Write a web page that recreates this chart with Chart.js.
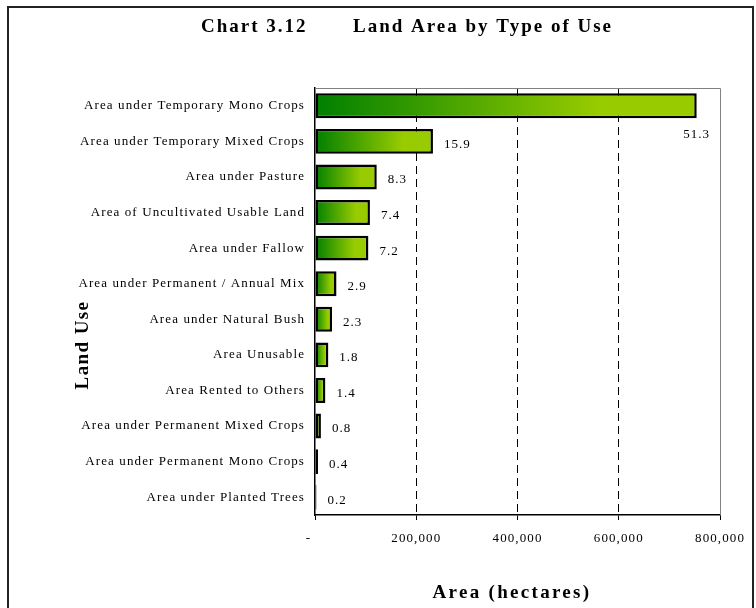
<!DOCTYPE html>
<html>
<head>
<meta charset="utf-8">
<script src="https://cdn.jsdelivr.net/npm/chart.js@4.4.1/dist/chart.umd.min.js"></script>
<style>
    html, body { margin: 0; padding: 0; background: #fff; }
    canvas { display: block; }
</style>
</head>
<body>
<canvas id="landUseChart" width="756" height="608"></canvas>
<script>
const landUses = [
    'Area under Temporary Mono Crops',
    'Area under Temporary Mixed Crops',
    'Area under Pasture',
    'Area of Uncultivated Usable Land',
    'Area under Fallow',
    'Area under Permanent / Annual Mix',
    'Area under Natural Bush',
    'Area Unusable',
    'Area Rented to Others',
    'Area under Permanent Mixed Crops',
    'Area under Permanent Mono Crops',
    'Area under Planted Trees'
];
// hectares
const areaHectares = [754000, 233000, 122000, 108500, 105500, 42500, 33700, 26400, 20500, 11700, 5900, 2900];
// percent shares printed next to the bars
const sharePercent = ['51.3', '15.9', '8.3', '7.4', '7.2', '2.9', '2.3', '1.8', '1.4', '0.8', '0.4', '0.2'];
const xTickValues = [0, 200000, 400000, 600000, 800000];
const xTickLabels = ['-   ', '200,000', '400,000', '600,000', '800,000'];

const serif = "'Liberation Serif', 'Times New Roman', serif";
const darkGreen = '#007f00';
const lightGreen = '#99cc00';

// Excel-ish wide letter spacing on everything the chart draws
const spacingPlugin = {
    id: 'spacing',
    beforeLayout(chart) { chart.ctx.letterSpacing = '1.1px'; },
    beforeDraw(chart) { chart.ctx.letterSpacing = '1.1px'; }
};

const framePlugin = {
    id: 'frame',
    beforeDraw(chart) {
        const ctx = chart.ctx;
        ctx.save();
        ctx.fillStyle = '#fff';
        ctx.fillRect(0, 0, chart.width, chart.height);
        ctx.restore();
    },
    afterDraw(chart) {
        const ctx = chart.ctx;
        const area = chart.chartArea;
        ctx.save();
        // outer page box
        ctx.strokeStyle = '#222';
        ctx.lineWidth = 2;
        ctx.strokeRect(8, 7, 745, 640);
        // plot area top / right edge
        ctx.strokeStyle = '#808080';
        ctx.lineWidth = 1;
        ctx.beginPath();
        ctx.moveTo(area.left, area.top + 0.5);
        ctx.lineTo(area.right + 0.5, area.top + 0.5);
        ctx.lineTo(area.right + 0.5, area.bottom);
        ctx.stroke();

        // titles
        ctx.fillStyle = '#000';
        ctx.font = 'bold 19px ' + serif;
        ctx.letterSpacing = '2px';
        ctx.textAlign = 'left';
        ctx.textBaseline = 'alphabetic';
        ctx.fillText('Chart 3.12', 201, 32);
        ctx.fillText('Land Area by Type of Use', 353, 32);

        ctx.font = 'bold 19px ' + serif;
        ctx.letterSpacing = '2.3px';
        ctx.textAlign = 'center';
        ctx.fillText('Area (hectares)', 512, 598);

        ctx.letterSpacing = '1.4px';
        ctx.translate(83, 345);
        ctx.rotate(-Math.PI / 2);
        ctx.textBaseline = 'middle';
        ctx.fillText('Land Use', 0, 0);
        ctx.restore();
    }
};

const valueLabelPlugin = {
    id: 'valueLabels',
    afterDatasetsDraw(chart) {
        const ctx = chart.ctx;
        const area = chart.chartArea;
        const meta = chart.getDatasetMeta(0);
        ctx.save();
        ctx.font = '13px ' + serif;
        ctx.letterSpacing = '1px';
        ctx.fillStyle = '#000';
        ctx.textBaseline = 'middle';
        meta.data.forEach((bar, i) => {
            const text = sharePercent[i];
            const w = ctx.measureText(text).width;
            if (bar.x + 11 + w > area.right) {
                ctx.textAlign = 'center';
                ctx.fillText(text, bar.x, bar.y + 29);
            } else {
                ctx.textAlign = 'left';
                ctx.fillText(text, bar.x + 11, bar.y + 3);
            }
        });
        ctx.restore();
    }
};

const ctx = document.getElementById('landUseChart').getContext('2d');

new Chart(ctx, {
    type: 'bar',
    data: {
        labels: landUses,
        datasets: [{
            data: areaHectares,
            backgroundColor: function (context) {
                const chart = context.chart;
                if (!chart.chartArea || !chart.scales.x) {
                    return lightGreen;
                }
                const x0 = chart.scales.x.getPixelForValue(0);
                const x1 = chart.scales.x.getPixelForValue(context.raw);
                const g = chart.ctx.createLinearGradient(x0, 0, Math.max(x1, x0 + 1), 0);
                g.addColorStop(0, darkGreen);
                g.addColorStop(0.75, lightGreen);
                g.addColorStop(1, lightGreen);
                return g;
            },
            borderColor: '#000',
            borderWidth: 2.5,
            borderSkipped: false,
            barPercentage: 0.7,
            categoryPercentage: 1
        }]
    },
    options: {
        indexAxis: 'y',
        responsive: false,
        animation: false,
        devicePixelRatio: 1,
        layout: {
            padding: { left: 0, top: 88, right: 32, bottom: 0 }
        },
        plugins: {
            legend: { display: false },
            title: { display: false },
            tooltip: { enabled: false }
        },
        scales: {
            x: {
                min: 0,
                max: 800000,
                afterFit: function (scale) { scale.height = 93; },
                afterBuildTicks: function (scale) {
                    scale.ticks = xTickValues.map(v => ({ value: v }));
                },
                ticks: {
                    color: '#000',
                    font: { family: serif, size: 13 },
                    padding: 11,
                    maxRotation: 0,
                    callback: function (value, index) { return xTickLabels[index]; }
                },
                grid: {
                    color: function (context) {
                        const v = context.tick ? context.tick.value : 0;
                        return (v === 0 || v === 800000) ? 'rgba(0,0,0,0)' : '#000';
                    },
                    lineWidth: 1,
                    drawTicks: true,
                    tickLength: 5,
                    tickColor: '#000',
                    tickWidth: 1,
                    tickBorderDash: []
                },
                border: { display: true, color: '#000', width: 1.5, dash: [8, 5] }
            },
            y: {
                afterFit: function (scale) { scale.width = 315; },
                ticks: {
                    color: '#000',
                    font: { family: serif, size: 13 },
                    padding: 10,
                    autoSkip: false
                },
                grid: {
                    color: 'rgba(0,0,0,0)',
                    drawTicks: false
                },
                border: { display: true, color: '#000', width: 1.5 }
            }
        }
    },
    plugins: [spacingPlugin, framePlugin, valueLabelPlugin]
});
</script>
</body>
</html>
